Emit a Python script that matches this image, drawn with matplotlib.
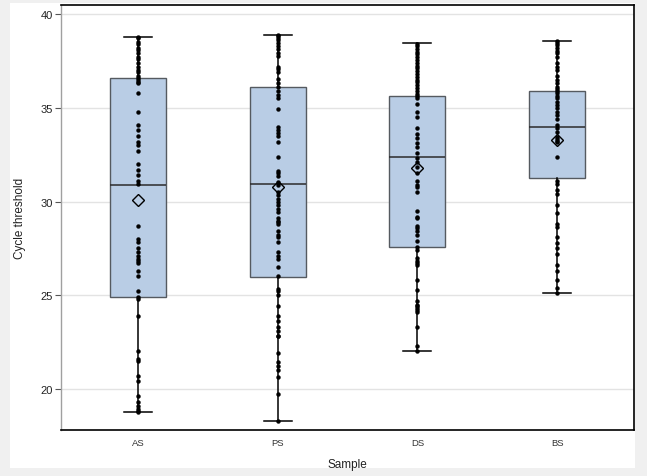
import matplotlib
matplotlib.use("Agg")
import matplotlib.pyplot as plt

categories = ["AS", "PS", "DS", "BS"]

q1 = [24.9, 25.95, 27.55, 31.25]
medians = [30.9, 30.95, 32.4, 33.95]
q3 = [36.6, 36.1, 35.65, 35.9]
whislo = [18.75, 18.3, 22.05, 25.1]
whishi = [38.8, 38.9, 38.45, 38.55]
means = [30.1, 30.8, 31.8, 33.3]

as_vals = [38.8, 38.7, 38.5, 38.4, 38.2, 38.1, 37.9, 37.7, 37.6, 37.4, 37.2, 37.0,
           36.9, 36.7, 36.6, 36.5, 36.4, 36.3,
           35.8, 34.8, 34.1, 33.8, 33.5, 33.2, 33.0, 32.7, 32.0, 31.7, 31.4, 31.1, 30.95,
           28.7, 28.0, 27.85, 27.5, 27.3, 27.1, 26.95, 26.8, 26.7, 26.3, 26.0, 25.2, 24.9, 24.8,
           23.9, 22.0, 21.6, 21.5, 20.7, 20.4, 19.65, 19.3, 19.1, 18.95, 18.85, 18.75]
ps_vals = [38.9, 38.85, 38.7, 38.6, 38.45, 38.3, 38.15, 37.9, 37.75, 37.2, 37.05, 36.9,
           36.55, 36.3, 36.1, 35.9, 35.7, 35.5, 34.95, 34.0, 33.8, 33.65, 33.5, 33.2, 32.4,
           31.65, 31.5, 31.35, 31.05, 30.9, 30.5, 30.35, 30.15, 30.0, 29.8, 29.6, 29.45,
           29.1, 28.95, 28.9, 28.8, 28.4, 28.2, 28.1, 27.85, 27.3, 27.1, 26.95, 26.5, 26.0,
           25.35, 25.2, 25.0, 24.45, 23.9, 23.65, 23.3, 23.1, 22.85, 22.8, 21.9, 21.45,
           21.25, 21.0, 20.65, 19.75, 18.3]
ds_vals = [38.4, 38.3, 38.15, 38.0, 37.85, 37.7, 37.55, 37.4, 37.25, 37.1, 36.95, 36.8,
           36.65, 36.5, 36.35, 36.2, 36.05, 35.9, 35.75, 35.65, 35.5, 35.2, 34.8, 34.5,
           33.9, 33.6, 33.4, 33.1, 32.9, 32.6, 32.3, 32.1, 31.85, 31.5, 31.1, 30.9, 30.8,
           30.5, 29.5, 29.2, 29.1, 28.7, 28.6, 28.4, 28.2, 27.9, 27.55, 27.4, 27.0, 26.8,
           26.7, 26.6, 25.8, 25.3, 24.7, 24.5, 24.4, 24.3, 24.2, 24.1, 23.3, 22.3, 22.05]
bs_vals = [38.55, 38.45, 38.35, 38.2, 38.05, 37.9, 37.7, 37.4, 37.2, 37.0, 36.7, 36.5,
           36.3, 36.1, 36.0, 35.9, 35.8, 35.65, 35.5, 35.3, 35.15, 35.0, 34.8, 34.6, 34.4,
           34.1, 33.9, 33.7, 33.45, 33.35, 33.25, 33.15, 32.4, 31.1, 30.95, 30.6, 30.4,
           29.8, 29.4, 28.8, 28.65, 28.1, 27.8, 27.5, 27.2, 26.6, 26.3, 25.8, 25.4, 25.1]
points = [as_vals, ps_vals, ds_vals, bs_vals]

yticks = [20, 25, 30, 35, 40]

plt.rcParams["font.family"] = ["Liberation Sans", "DejaVu Sans"]

fig = plt.figure(figsize=(6.47, 4.77), dpi=100)
fig.patch.set_facecolor("#f0f0f0")

bg = fig.add_axes([10 / 647, 1 - 469 / 477, (635 - 10) / 647, (469 - 4) / 477], zorder=-5)
bg.set_facecolor("white")
bg.set_xticks([])
bg.set_yticks([])
for s in bg.spines.values():
    s.set_visible(False)

ax = fig.add_axes([61 / 647, 1 - 431 / 477, (634 - 61) / 647, (431 - 5.5) / 477], zorder=1)
ax.set_facecolor("white")

stats = []
for i in range(len(categories)):
    stats.append(dict(label=categories[i], q1=q1[i], med=medians[i], q3=q3[i],
                      whislo=whislo[i], whishi=whishi[i], mean=means[i], fliers=[]))

pos = list(range(len(categories)))
ax.bxp(stats, positions=pos, widths=0.4, patch_artist=True, showmeans=False,
       showfliers=False,
       boxprops=dict(facecolor="#b9cde5", edgecolor="#555a60", linewidth=1.0),
       medianprops=dict(color="#2b2b2b", linewidth=1.1),
       whiskerprops=dict(color="black", linewidth=1.1),
       capprops=dict(color="black", linewidth=1.1),
       capwidths=0.2, zorder=2)

for i, vals in enumerate(points):
    ax.plot([pos[i]] * len(vals), vals, linestyle="none", marker="o", markersize=2.8,
            markeredgewidth=0.3, color="black", zorder=4)

ax.plot(pos, means, linestyle="none", marker="D", markersize=6.5, markerfacecolor="none",
        markeredgecolor="black", markeredgewidth=1.0, zorder=5)

ax.set_xlim(-0.55, 3.55)
ax.set_ylim(17.81, 40.51)
ax.set_yticks(yticks)
ax.set_xticks(pos)
ax.set_xticklabels(categories)
ax.yaxis.grid(True, color="#e3e3e3", linewidth=1.0, zorder=0)
ax.set_axisbelow(True)

ax.tick_params(axis="y", length=4, width=0.8, color="#555555", labelsize=8,
               labelcolor="#222222", pad=2)
ax.tick_params(axis="x", length=0, labelsize=6.8, labelcolor="#333333", pad=6)

for s in ["top", "bottom", "right"]:
    ax.spines[s].set_color("black")
    ax.spines[s].set_linewidth(1.2)
ax.spines["left"].set_color("#a0a0a0")
ax.spines["left"].set_linewidth(1.0)

ax.set_ylabel("Cycle threshold", fontsize=8.5, color="#222222", labelpad=10)
ax.set_xlabel("Sample", fontsize=8.5, color="#222222", labelpad=8)

fig.savefig("out.png", dpi=100, facecolor=fig.get_facecolor())
